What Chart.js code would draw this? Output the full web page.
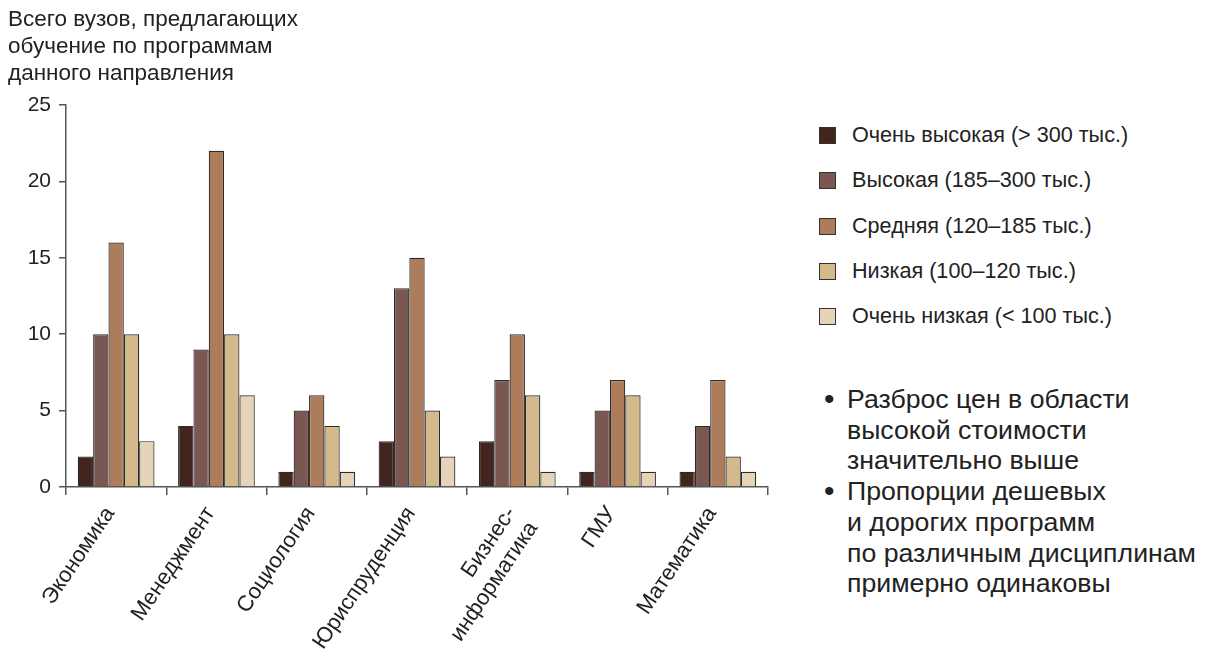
<!DOCTYPE html>
<html>
<head>
<meta charset="utf-8">
<script src="https://cdn.jsdelivr.net/npm/chart.js@4/dist/chart.umd.min.js"></script>
<style>
  body { margin: 0; background: #fff; font-family: "Liberation Sans", Arial, sans-serif; }
  #wrap { position: absolute; left: 0; top: 0; width: 790px; height: 650px; }
  #legend { position: absolute; left: 819px; top: 122px; color: #222; font-size: 21.6px; }
  .row { height: 45.3px; display: flex; align-items: flex-start; line-height: 26px; }
  .sw { width: 17px; height: 17px; border: 1px solid #333; box-sizing: border-box; margin-right: 16px; margin-top: 5px; }
  #notes { position: absolute; left: 826px; top: 384px; color: #222; font-size: 26.7px; line-height: 30.7px; margin: 0; padding: 0; list-style: none; }
  #notes li { position: relative; padding-left: 21px; }
  #notes li::before { content: "\2022"; position: absolute; left: -2px; font-size: 30px; }
</style>
</head>
<body>
<div id="wrap"><canvas id="myChart" width="790" height="650"></canvas></div>
<div id="legend"></div>
<ul id="notes"></ul>
<script>
const categories = ['Экономика', 'Менеджмент', 'Социология', 'Юриспруденция', ['Бизнес-', 'информатика'], 'ГМУ', 'Математика'];
const seriesNames = ['Очень высокая (> 300 тыс.)', 'Высокая (185–300 тыс.)', 'Средняя (120–185 тыс.)', 'Низкая (100–120 тыс.)', 'Очень низкая (< 100 тыс.)'];
const veryHigh = [2, 4, 1, 3, 3, 1, 1];
const high = [10, 9, 5, 13, 7, 5, 4];
const medium = [16, 22, 6, 15, 10, 7, 7];
const low = [10, 10, 4, 5, 6, 6, 2];
const veryLow = [3, 6, 1, 2, 1, 1, 1];
const yTicks = [0, 5, 10, 15, 20, 25];
const titleLines = ['Всего вузов, предлагающих', 'обучение по программам', 'данного направления'];
const noteLines = [
  ['Разброс цен в области', 'высокой стоимости', 'значительно выше'],
  ['Пропорции дешевых', 'и дорогих программ', 'по различным дисциплинам', 'примерно одинаковы']
];

const colors = ['#42261d', '#7a5750', '#ad7c5a', '#d4b98c', '#e5d4b8'];
const allSeries = [veryHigh, high, medium, low, veryLow];

// легенда и текст справа
const legendBox = document.getElementById('legend');
seriesNames.forEach((name, i) => {
  const row = document.createElement('div');
  row.className = 'row';
  const sw = document.createElement('div');
  sw.className = 'sw';
  sw.style.background = colors[i];
  const txt = document.createElement('span');
  txt.textContent = name;
  row.appendChild(sw);
  row.appendChild(txt);
  legendBox.appendChild(row);
});
const notesBox = document.getElementById('notes');
noteLines.forEach(lines => {
  const li = document.createElement('li');
  li.innerHTML = lines.join('<br>');
  notesBox.appendChild(li);
});

const ctx = document.getElementById('myChart').getContext('2d');
const axisColor = '#555';
const fontFamily = 'Liberation Sans';

new Chart(ctx, {
  type: 'bar',
  data: {
    labels: categories,
    datasets: allSeries.map((vals, i) => ({
      label: seriesNames[i],
      data: vals,
      backgroundColor: colors[i],
      borderColor: '#2b2b2b',
      borderWidth: 1.2,
      barPercentage: 1,
      categoryPercentage: 0.765
    }))
  },
  options: {
    responsive: false,
    animation: false,
    layout: { padding: { left: 8, right: 22, top: 6, bottom: 0 } },
    plugins: {
      legend: { display: false },
      tooltip: { enabled: false },
      title: {
        display: true,
        text: titleLines,
        align: 'start',
        color: '#222',
        font: { family: fontFamily, size: 22.5, weight: 'normal', lineHeight: 1.2 },
        padding: { top: 0, bottom: 18 }
      }
    },
    scales: {
      x: {
        grid: { display: true, drawOnChartArea: false, offset: true, color: axisColor, lineWidth: 1.5, tickLength: 8 },
        border: { display: true, color: axisColor, width: 1.5 },
        ticks: {
          color: '#222',
          font: { family: fontFamily, size: 22 },
          minRotation: 56,
          maxRotation: 56,
          padding: 7,
          labelOffset: -6,
          autoSkip: false
        },
        afterFit: scale => { scale.height = 163; }
      },
      y: {
        min: 0,
        max: 25,
        afterBuildTicks: scale => { scale.ticks = yTicks.map(v => ({ value: v })); },
        grid: { display: true, drawOnChartArea: false, color: axisColor, lineWidth: 1.5, tickLength: 7 },
        border: { display: true, color: axisColor, width: 1.5 },
        ticks: { color: '#222', font: { family: fontFamily, size: 21 }, padding: 8 },
        afterFit: scale => { scale.width = 58; }
      }
    }
  }
});
</script>
</body>
</html>
